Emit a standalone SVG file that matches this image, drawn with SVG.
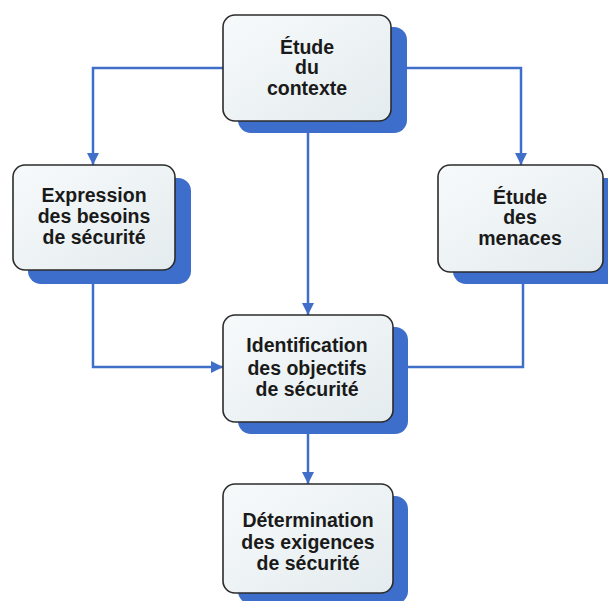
<svg xmlns="http://www.w3.org/2000/svg" width="608" height="601" viewBox="0 0 608 601">
  <defs>
    <linearGradient id="boxfill" x1="0" y1="0" x2="1" y2="1">
      <stop offset="0" stop-color="#f7fafb"/>
      <stop offset="1" stop-color="#e4ebee"/>
    </linearGradient>
    <marker id="arrow" viewBox="0 0 12 12" refX="12" refY="6" markerWidth="12" markerHeight="12" markerUnits="userSpaceOnUse" orient="auto">
      <path d="M0,0 L12,6 L0,12 Z" fill="#3f6fc8"/>
    </marker>
    <style>
      .shadow { fill: #3d6ecb; }
      .box { fill: url(#boxfill); stroke: #2b2b2b; stroke-width: 1.6; }
      .label { font-family: "Liberation Sans", Arial, sans-serif; font-weight: bold; font-size: 19.5px; fill: #1a1a1a; text-anchor: middle; }
      .conn { fill: none; stroke: #3f6fc8; stroke-width: 2.5; }
    </style>
  </defs>
  <rect width="608" height="601" fill="#ffffff"/>

  <g id="connectors">
    <polyline class="conn" points="223,68 93,68 93,165" marker-end="url(#arrow)"/>
    <polyline class="conn" points="407,68 521,68 521,165" marker-end="url(#arrow)"/>
    <line class="conn" x1="308" y1="133" x2="308" y2="315" marker-end="url(#arrow)"/>
    <polyline class="conn" points="93,284 93,367 223,367" marker-end="url(#arrow)"/>
    <polyline class="conn" points="523,284 523,367 406,367"/>
    <line class="conn" x1="308" y1="433" x2="308" y2="484" marker-end="url(#arrow)"/>
  </g>

  <g id="etude-contexte">
    <rect class="shadow" x="238" y="27" width="169" height="106" rx="13"/>
    <rect class="box" x="223" y="15" width="168" height="106" rx="12"/>
    <text class="label" x="307" y="54">Étude</text>
    <text class="label" x="307" y="74">du</text>
    <text class="label" x="307" y="95">contexte</text>
  </g>

  <g id="expression-besoins">
    <rect class="shadow" x="28" y="178" width="163" height="106" rx="13"/>
    <rect class="box" x="13" y="165" width="162" height="105" rx="12"/>
    <text class="label" x="94" y="202">Expression</text>
    <text class="label" x="94" y="223">des besoins</text>
    <text class="label" x="94" y="244">de sécurité</text>
  </g>

  <g id="etude-menaces">
    <rect class="shadow" x="453" y="178" width="170" height="106" rx="13"/>
    <rect class="box" x="438" y="165" width="165" height="107" rx="12"/>
    <text class="label" x="520" y="204">Étude</text>
    <text class="label" x="520" y="224">des</text>
    <text class="label" x="520" y="245">menaces</text>
  </g>

  <g id="identification-objectifs">
    <rect class="shadow" x="238" y="327" width="170" height="107" rx="13"/>
    <rect class="box" x="223" y="315" width="170" height="107" rx="12"/>
    <text class="label" x="307" y="352">Identification</text>
    <text class="label" x="307" y="375">des objectifs</text>
    <text class="label" x="307" y="396">de sécurité</text>
  </g>

  <g id="determination-exigences">
    <rect class="shadow" x="238" y="496" width="170" height="108" rx="13"/>
    <rect class="box" x="223" y="484" width="170" height="109" rx="12"/>
    <text class="label" x="308" y="527">Détermination</text>
    <text class="label" x="308" y="549">des exigences</text>
    <text class="label" x="308" y="570">de sécurité</text>
  </g>
</svg>
